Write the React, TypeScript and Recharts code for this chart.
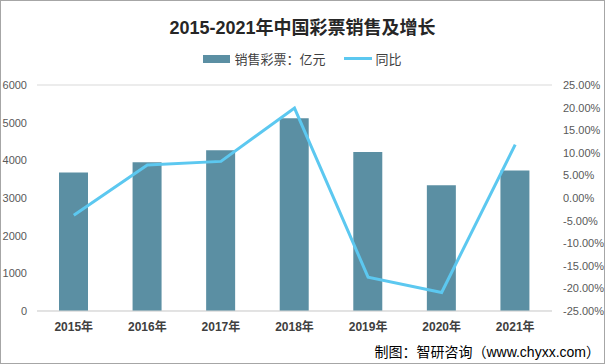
import { ComposedChart, Bar, Line, XAxis, YAxis, CartesianGrid } from 'recharts'

const years = ['2015年', '2016年', '2017年', '2018年', '2019年', '2020年', '2021年']
const sales = [3678.8, 3946.4, 4266.7, 5114.7, 4220.5, 3339.5, 3732.9]
const growth = [-3.8, 7.3, 8.1, 19.9, -17.5, -20.9, 11.8]
const leftTicks = [0, 1000, 2000, 3000, 4000, 5000, 6000]
const rightTicks = [-25, -20, -15, -10, -5, 0, 5, 10, 15, 20, 25]

const colors = {
  bar: '#5b8fa3',
  line: '#5cc8f0',
  grid: '#d9d9d9',
  tick: '#595959',
  text: '#404040',
}

const font = '"Liberation Sans", "Noto Sans CJK SC", sans-serif'

const data = years.map((year, i) => ({ year, sales: sales[i], growth: growth[i] }))

function ChartLegend() {
  return (
    <div
      style={{
        position: 'absolute',
        left: 0,
        top: 49,
        width: 605,
        display: 'flex',
        justifyContent: 'center',
        alignItems: 'center',
        fontSize: 13,
        color: colors.text,
      }}
    >
      <span style={{ display: 'inline-block', width: 27, height: 8, background: colors.bar, marginRight: 4 }} />
      <span>销售彩票：亿元</span>
      <span style={{ display: 'inline-block', width: 28, height: 3, background: colors.line, marginLeft: 18, marginRight: 4 }} />
      <span>同比</span>
    </div>
  )
}

export default function App() {
  return (
    <div style={{ position: 'absolute', left: 0, top: 0, width: 605, height: 364, background: '#fff', fontFamily: font }}>
      <div
        style={{
          position: 'absolute',
          left: 0,
          top: 13,
          width: 605,
          textAlign: 'center',
          fontSize: 18,
          fontWeight: 'bold',
          color: '#262626',
        }}
      >
        2015-2021年中国彩票销售及增长
      </div>
      <ChartLegend />
      <ComposedChart
        width={605}
        height={364}
        data={data}
        margin={{ top: 85, right: 0, bottom: 23, left: 0 }}
      >
        <CartesianGrid vertical={false} stroke={colors.grid} />
        <XAxis
          dataKey="year"
          height={30}
          tickLine={false}
          axisLine={{ stroke: colors.grid }}
          tickMargin={5}
          tick={{ fill: colors.text, fontSize: 12, fontWeight: 'bold' }}
        />
        <YAxis
          yAxisId="left"
          width={37}
          domain={[0, 6000]}
          ticks={leftTicks}
          tickLine={false}
          axisLine={false}
          tickMargin={4}
          tick={{ fill: colors.tick, fontSize: 11 }}
        />
        <YAxis
          yAxisId="right"
          orientation="right"
          width={53}
          domain={[-25, 25]}
          ticks={rightTicks}
          tickFormatter={(v: number) => `${v.toFixed(2)}%`}
          tickLine={false}
          axisLine={false}
          tickMargin={5}
          tick={{ fill: colors.tick, fontSize: 11, textAnchor: 'start' }}
        />
        <Bar
          yAxisId="left"
          dataKey="sales"
          fill={colors.bar}
          barSize={29}
          isAnimationActive={false}
          name="销售彩票：亿元"
        />
        <Line
          yAxisId="right"
          dataKey="growth"
          type="linear"
          stroke={colors.line}
          strokeWidth={3}
          dot={false}
          isAnimationActive={false}
          name="同比"
        />
      </ComposedChart>
      <div style={{ position: 'absolute', right: 5, top: 341, fontSize: 14, color: '#000', whiteSpace: 'nowrap' }}>
        制图：智研咨询（www.chyxx.com）
      </div>
      <div
        style={{
          position: 'absolute',
          left: 0,
          top: 0,
          width: 605,
          height: 364,
          boxSizing: 'border-box',
          border: '1px solid #a6a6a6',
          pointerEvents: 'none',
        }}
      />
    </div>
  )
}
